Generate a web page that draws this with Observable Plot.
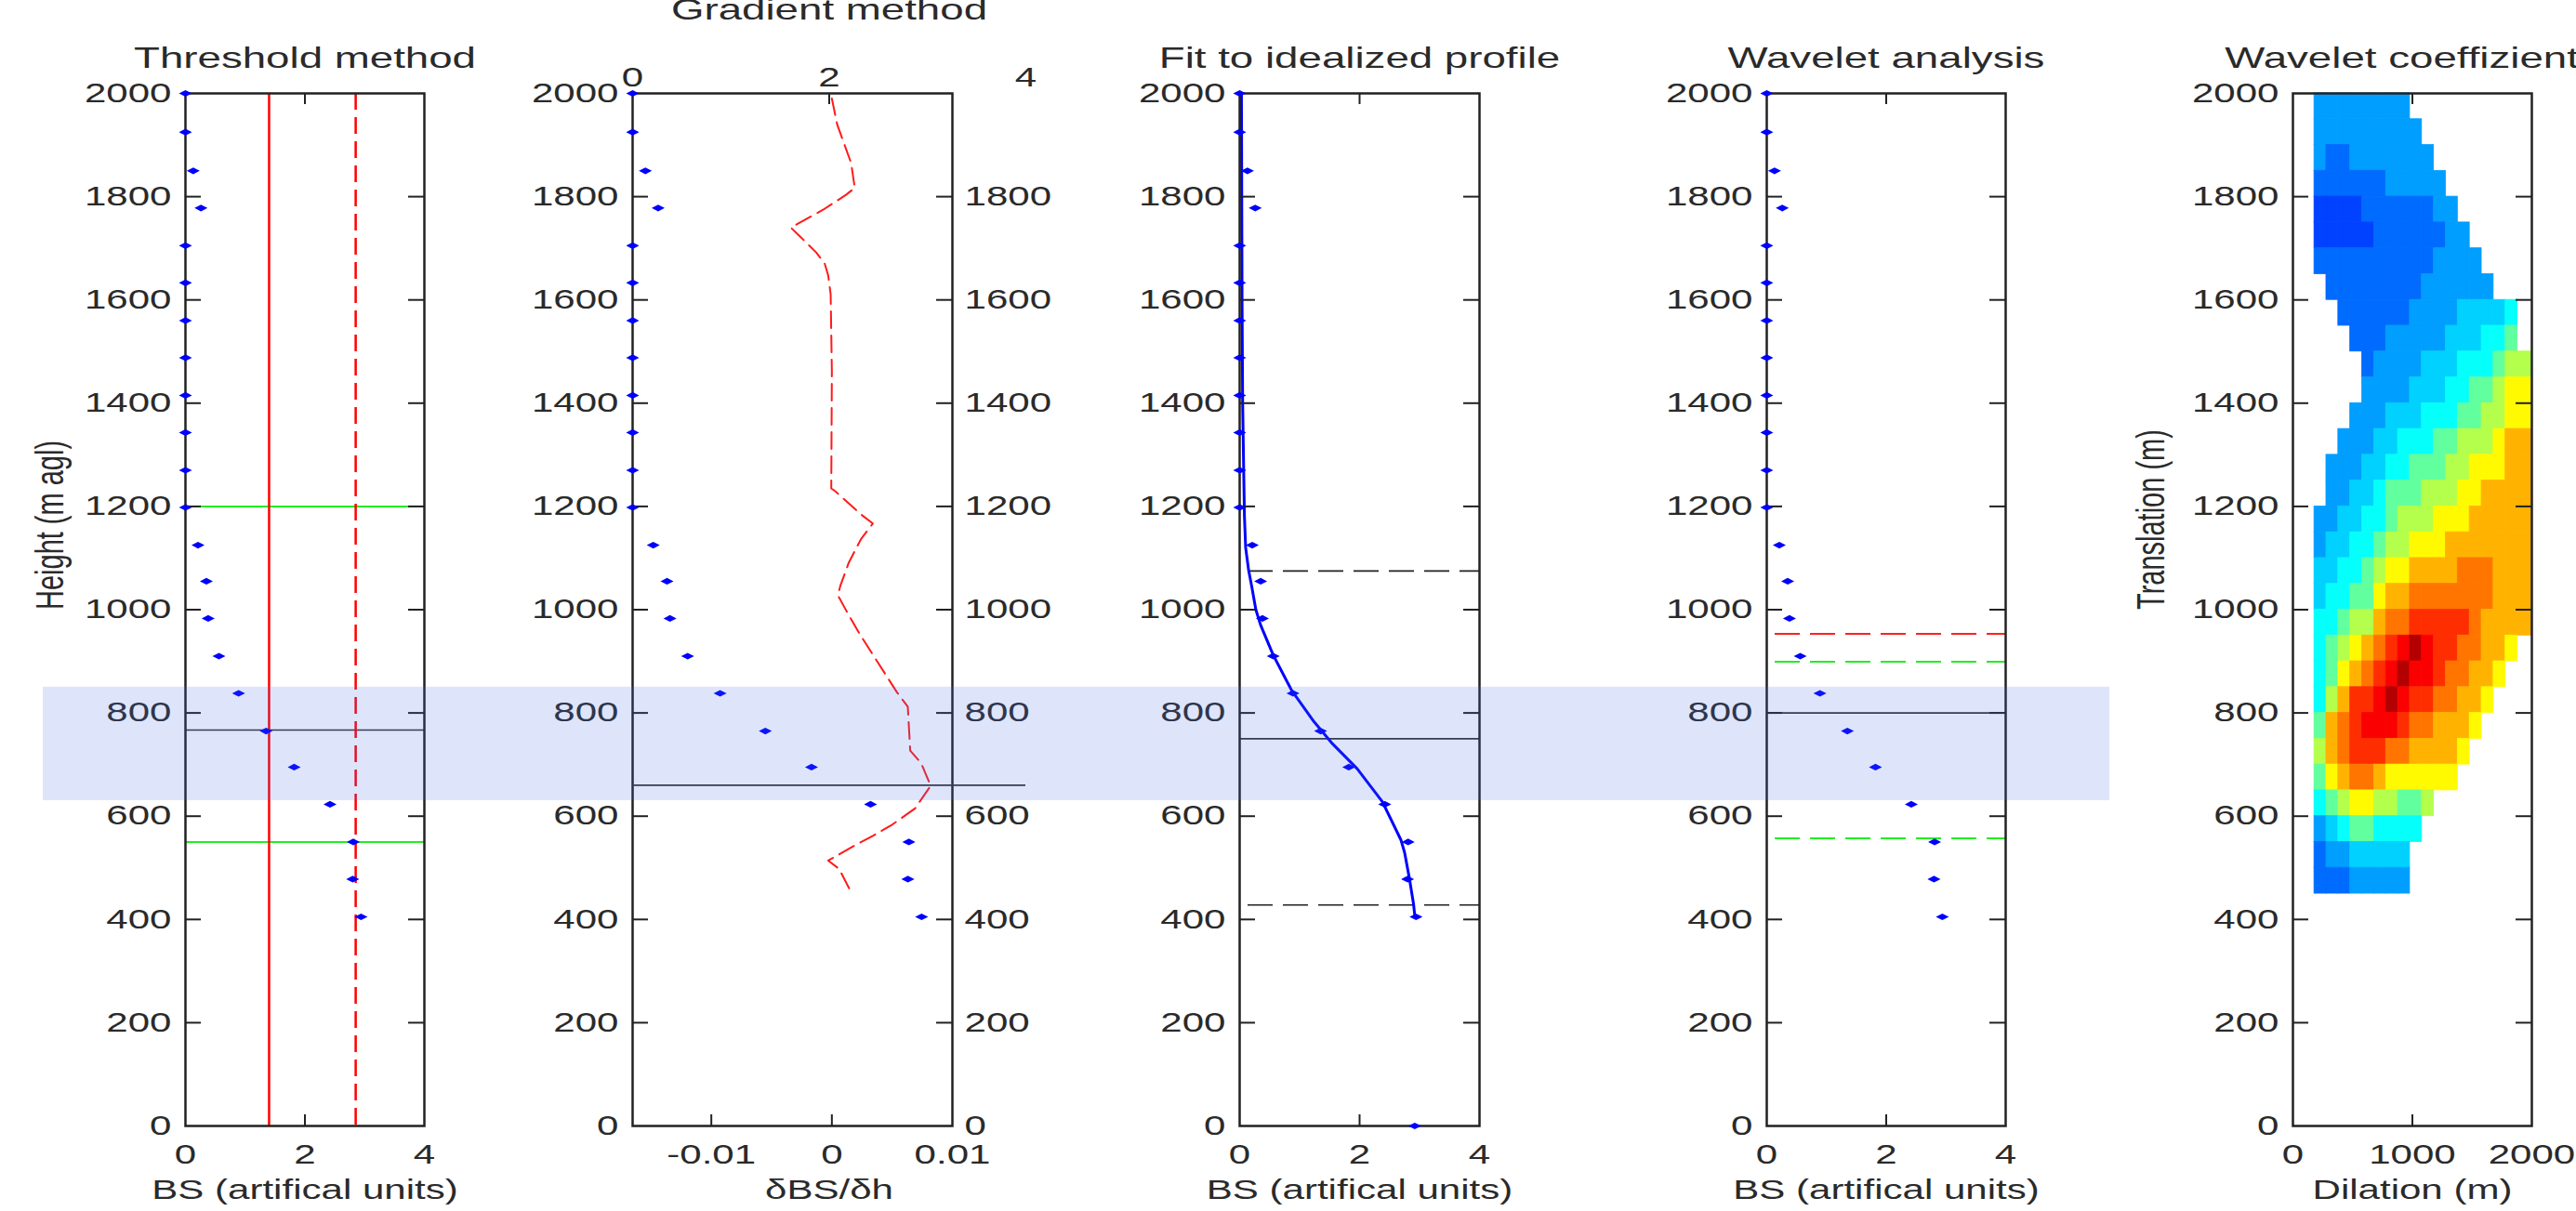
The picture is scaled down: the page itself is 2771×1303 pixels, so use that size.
<!DOCTYPE html>
<html><head><meta charset="utf-8">
<script src="https://cdn.jsdelivr.net/npm/d3@7"></script>
<script src="https://cdn.jsdelivr.net/npm/@observablehq/plot@0.6"></script>
<style>
html,body{margin:0;padding:0;background:#fff;overflow:hidden;}
#fig{position:relative;width:2771px;height:1303px;overflow:hidden;background:#fff;}
#fig svg{position:absolute;top:0;overflow:visible;}
</style></head><body><div id="fig"></div>
<script>
// ---------------- data ----------------
const profileHeights = [2000, 1925, 1850, 1778, 1705, 1633, 1560, 1488, 1415, 1343, 1270, 1198, 1125, 1055, 983, 910, 838, 765, 695, 623, 550, 478, 405];
const profileBS      = [0, 0, 0.13, 0.26, 0, 0, 0, 0, 0, 0, 0, 0, 0.21, 0.35, 0.38, 0.56, 0.89, 1.35, 1.82, 2.42, 2.81, 2.80, 2.94];
const groundPoint = {bs: 2.92, h: 0};

const gradientValues  = [0, 0.00044, 0.0016, 0.0019, 0.0012, -0.0007, -0.0034, -0.0026, -0.0013, -0.0006, -0.0003, -0.0001, 0, -0.00005, 0.0003, 0.0025, 0.0034, 0.0024, 0.0014, 0.0007, 0.0005, 0.0012, 0.0023, 0.0034, 0.0054, 0.0063, 0.0065, 0.0074, 0.0082, 0.0069, 0.0049, 0.0034, 0.0018, -0.0003, 0.0006, 0.0015];
const gradientHeights = [1990, 1940, 1865, 1817, 1804, 1775, 1740, 1722, 1692, 1671, 1647, 1611, 1461, 1235, 1229, 1183, 1167, 1136, 1091, 1046, 1028, 998, 953, 913, 840, 812, 727, 703, 659, 615, 582, 562, 542, 514, 498, 457];

const fitBS      = [0.03, 0.04, 0.05, 0.07, 0.08, 0.1, 0.15, 0.2, 0.27, 0.35, 0.56, 0.87, 1.24, 1.55, 1.96, 2.38, 2.69, 2.75, 2.83, 2.9, 2.92];
const fitHeights = [2000, 1600, 1400, 1250, 1180, 1120, 1076, 1046, 1000, 970, 912, 843, 783, 740, 692, 628, 554, 530, 480, 430, 408];

const thresholdSolidX = [1.4];
const thresholdDashedX = [2.85];
const thresholdGreen = [1200, 550];
const thresholdHeight = [767];
const gradientHeight = [660];
const fitDashed = [1075, 428];
const fitHeight = [750];
const waveletRed = [953];
const waveletGreen = [899, 557];
const waveletHeight = [800];
const bandRange = [{y1: 630, y2: 850}];

const heightTicks = [0, 200, 400, 600, 800, 1000, 1200, 1400, 1600, 1800, 2000];
const innerHeightTicks = [200, 400, 600, 800, 1000, 1200, 1400, 1600, 1800];
const rightHeightTicks = [0, 200, 400, 600, 800, 1000, 1200, 1400, 1600, 1800];
const bsTicks = [0, 2, 4];
const gradTicks = [-0.01, 0, 0.01];
const dilationTicks = [0, 1000, 2000];

// wavelet coefficients grid, rows from 2000 m downwards
const dilationEdges = [180, 280, 380, 480, 580, 680, 780, 880, 980, 1080, 1180, 1280, 1380, 1480, 1580, 1680, 1780, 1880, 2000];
const translationEdges = [2000, 1950, 1900, 1850, 1800, 1750, 1700, 1650, 1600, 1550, 1500, 1450, 1400, 1350, 1300, 1250, 1200, 1150, 1100, 1050, 1000, 950, 900, 850, 800, 750, 700, 650, 600, 550, 500, 450, 400];
const coefRows = [
  "33333333..........",
  "333333333.........",
  "3223333333........",
  "22222233333.......",
  "111122222233......",
  "1111122222233.....",
  "22222222223333....",
  ".22222222333333...",
  "..222222333344445.",
  "...22233333444556.",
  "....23333444555677",
  "....33334445566788",
  "...333444555667788",
  "..3334455566777899",
  ".33344556667788899",
  ".33445666777889999",
  "334455677788899999",
  "344556778889999999",
  "445567889999aaa999",
  "45566899aaaaaaa999",
  "556779aabbbbba9999",
  "56789abcdcbbaa998.",
  "5689abcdccbaa998..",
  "579bbcdcbbaa998...",
  "69abcccbaa9998....",
  "79abbbaa99998.....",
  "689aa9888888......",
  "5678877667........",
  "345665555.........",
  "23344444..........",
  "22233333..........",
  ".................."
];
const coefLevels = {"1":0.19,"2":0.23,"3":0.28,"4":0.33,"5":0.38,"6":0.47,"7":0.55,"8":0.63,"9":0.70,"a":0.76,"b":0.83,"c":0.88,"d":0.95};
const jetStops = [0, 0.125, 0.375, 0.625, 0.875, 1];
const jetColors = ["#00008f", "#0000ff", "#00ffff", "#ffff00", "#ff0000", "#800000"];

// ---------------- build tables ----------------
const profile = profileHeights.map((h, i) => ({h, bs: profileBS[i]}));
const gradient = gradientHeights.map((h, i) => ({h, g: gradientValues[i]}));
const fit = fitHeights.map((h, i) => ({h, bs: fitBS[i]}));
const cells = [];
coefRows.forEach((row, r) => {
  [...row].forEach((ch, c) => {
    if (ch === ".") return;
    cells.push({x1: dilationEdges[c], x2: dilationEdges[c + 1], y1: translationEdges[r + 1], y2: translationEdges[r], v: coefLevels[ch]});
  });
});

// ---------------- layout ----------------
const fig = document.getElementById("fig");
const FONT = "'Liberation Sans', Arial, Helvetica, sans-serif";
const H = 1303, TOP = 100, BOTTOM = 1211, FH = BOTTOM - TOP;
const STRETCH = 1.45;
const INK = "#2a2a2a";
const flatDiamond = {draw(ctx) { ctx.moveTo(-7, 0); ctx.lineTo(0, -3.6); ctx.lineTo(7, 0); ctx.lineTo(0, 3.6); ctx.closePath(); }};

function stretchText(svg) {
  svg.querySelectorAll("text").forEach(t => {
    const tr = t.getAttribute("transform") || "";
    const extra = /rotate/.test(tr) ? ` scale(1,${STRETCH})` : ` scale(${STRETCH},1)`;
    t.setAttribute("transform", (tr + extra).trim());
  });
}

function panel({left, width, frameLeft, frameRight, x, marks, color}) {
  const svg = Plot.plot({
    width, height: H,
    marginLeft: frameLeft - left, marginRight: left + width - frameRight,
    marginTop: TOP, marginBottom: H - BOTTOM,
    x: {...x, axis: null},
    y: {domain: [0, 2000], axis: null},
    color,
    style: {fontFamily: FONT, fontSize: "29px", color: INK, background: "transparent", overflow: "visible"},
    marks
  });
  svg.style.left = left + "px";
  stretchText(svg);
  fig.appendChild(svg);
  return svg;
}

function box(frameW, xInner, {top = true} = {}) {
  const m = [
    Plot.frame({stroke: "#222", strokeWidth: 2.5}),
    Plot.tickY(innerHeightTicks, {y: d => d, stroke: "#222", strokeWidth: 2, insetRight: frameW - 17}),
    Plot.tickY(innerHeightTicks, {y: d => d, stroke: "#222", strokeWidth: 2, insetLeft: frameW - 17}),
    Plot.tickX(xInner, {x: d => d, stroke: "#222", strokeWidth: 2, insetTop: FH - 12})
  ];
  if (top) m.push(Plot.tickX(xInner, {x: d => d, stroke: "#222", strokeWidth: 2, insetBottom: FH - 12}));
  return m;
}
const leftAxis = () => Plot.axisY({anchor: "left", ticks: heightTicks, tickSize: 0, tickPadding: 15, tickFormat: d => String(d), label: null});
const bottomAxis = (ticks, fmt = d => String(d)) => Plot.axisX({anchor: "bottom", ticks, tickSize: 0, tickPadding: 20, tickFormat: fmt, label: null});
const title = (s, dy = -38) => Plot.text([s], {text: d => d, frameAnchor: "top", dy, lineAnchor: "middle", fill: INK, fontSize: 31.5});
const xLabel = s => Plot.text([s], {text: d => d, frameAnchor: "bottom", dy: 69, lineAnchor: "middle", fill: INK});
const yLabel = (s, dx) => Plot.text([s], {text: d => d, frameAnchor: "left", dx, rotate: -90, lineAnchor: "middle", fill: INK});
const dots = data => Plot.dot(data, {x: "bs", y: "h", symbol: flatDiamond, fill: "#0000ff", stroke: "none"});

// Panel 1: Threshold method
panel({left: 0, width: 600, frameLeft: 199, frameRight: 456, x: {domain: [0, 4]}, marks: [
  Plot.ruleY(thresholdGreen, {y: d => d, stroke: "#22ee22", strokeWidth: 2}),
  Plot.ruleY(thresholdHeight, {y: d => d, stroke: "#333", strokeWidth: 1.6}),
  Plot.ruleX(thresholdSolidX, {x: d => d, stroke: "#ff0000", strokeWidth: 2.5}),
  Plot.ruleX(thresholdDashedX, {x: d => d, stroke: "#ff0000", strokeWidth: 2.5, strokeDasharray: "18,8"}),
  ...box(257, [2]),
  dots(profile),
  leftAxis(), bottomAxis(bsTicks),
  title("Threshold method"), xLabel("BS (artifical units)"), yLabel("Height (m agl)", -145)
]});

// Panel 2: Gradient method (gradient axis)
panel({left: 560, width: 580, frameLeft: 680, frameRight: 1024, x: {domain: [-0.01653, 0.01]}, marks: [
  Plot.line(gradient, {x: "g", y: "h", stroke: "#ff1a1a", strokeWidth: 2, strokeDasharray: "18,8"}),
  ...box(344, [-0.01, 0], {top: false}),
  leftAxis(),
  Plot.axisY({anchor: "right", ticks: rightHeightTicks, tickSize: 0, tickPadding: 13, tickFormat: d => String(d), label: null}),
  bottomAxis(gradTicks, d => d === 0 ? "0" : String(d))
]});
// Panel 2: BS axis on top
panel({left: 560, width: 580, frameLeft: 680, frameRight: 1103, x: {domain: [0, 4]}, marks: [
  Plot.ruleY(gradientHeight, {y: d => d, stroke: "#333", strokeWidth: 1.6}),
  Plot.tickX([2], {x: d => d, stroke: "#222", strokeWidth: 2, insetBottom: FH - 12}),
  dots(profile),
  Plot.axisX({anchor: "top", ticks: bsTicks, tickSize: 0, tickPadding: 8, tickFormat: d => String(d), label: null}),
  title("Gradient method", -90), xLabel("δBS/δh")
]});

// Panel 3: Fit to idealized profile
panel({left: 1180, width: 520, frameLeft: 1333, frameRight: 1591, x: {domain: [0, 4]}, marks: [
  Plot.ruleY(fitDashed, {y: d => d, stroke: "#222", strokeWidth: 1.6, strokeDasharray: "27,11", strokeDashoffset: 29}),
  Plot.ruleY(fitHeight, {y: d => d, stroke: "#333", strokeWidth: 1.6}),
  Plot.line(fit, {x: "bs", y: "h", stroke: "#0000ff", strokeWidth: 3}),
  ...box(258, [2]),
  dots(profile), dots([groundPoint]),
  leftAxis(), bottomAxis(bsTicks),
  title("Fit to idealized profile"), xLabel("BS (artifical units)")
]});

// Panel 4: Wavelet analysis
panel({left: 1740, width: 520, frameLeft: 1900, frameRight: 2157, x: {domain: [0, 4]}, marks: [
  Plot.ruleY(waveletRed, {y: d => d, stroke: "#ff2020", strokeWidth: 2, strokeDasharray: "27,11", strokeDashoffset: 29}),
  Plot.ruleY(waveletGreen, {y: d => d, stroke: "#22ee22", strokeWidth: 2, strokeDasharray: "27,11", strokeDashoffset: 29}),
  Plot.ruleY(waveletHeight, {y: d => d, stroke: "#333", strokeWidth: 1.6}),
  ...box(257, [2]),
  dots(profile),
  leftAxis(), bottomAxis(bsTicks),
  title("Wavelet analysis"), xLabel("BS (artifical units)")
]});

// Panel 5: Wavelet coefficients
panel({left: 2180, width: 591, frameLeft: 2466, frameRight: 2723, x: {domain: [0, 2000]},
  color: {type: "linear", domain: jetStops, range: jetColors},
  marks: [
  Plot.rect(cells, {x1: "x1", x2: "x2", y1: "y1", y2: "y2", fill: "v", stroke: "v", strokeWidth: 0.8}),
  ...box(257, [1000]),
  leftAxis(), bottomAxis(dilationTicks),
  title("Wavelet coeffizients"), xLabel("Dilation (m)"), yLabel("Translation (m)", -152)
]});

// Highlight band across panels
panel({left: 0, width: 2771, frameLeft: 46, frameRight: 2269, x: {domain: [0, 1]}, marks: [
  Plot.rect(bandRange, {y1: "y1", y2: "y2", fill: "rgb(70,110,235)", fillOpacity: 0.18})
]});
</script></body></html>
